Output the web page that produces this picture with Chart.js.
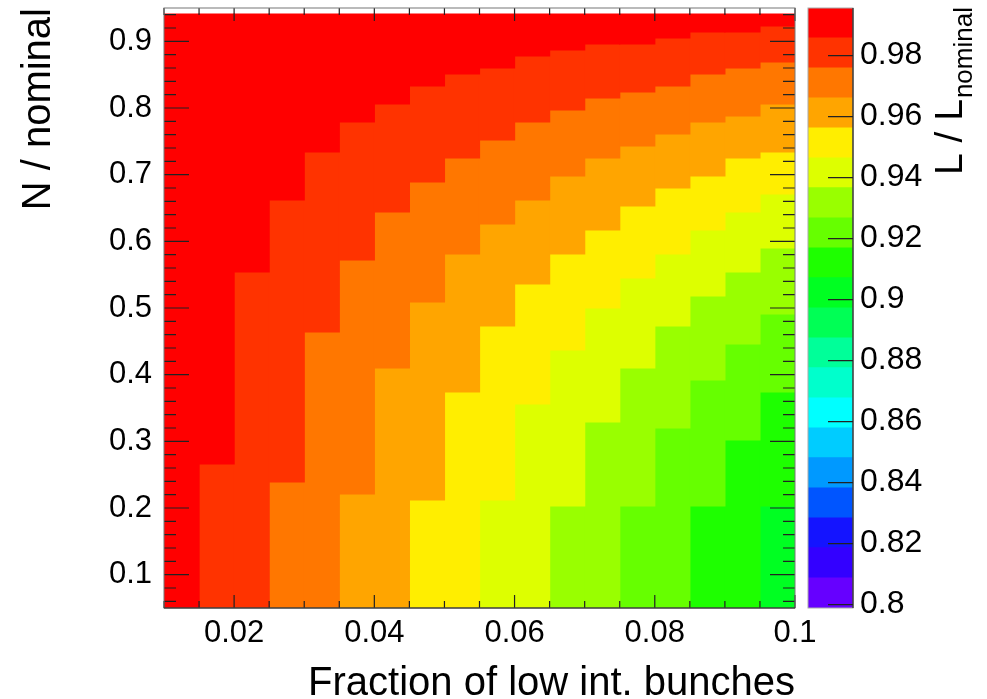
<!DOCTYPE html>
<html>
<head>
<meta charset="utf-8">
<title>L / L nominal</title>
<script src="https://cdn.jsdelivr.net/npm/chart.js@4.4.1/dist/chart.umd.min.js"></script>
<style>
  html, body { margin: 0; padding: 0; background: #fff; }
  #wrap { position: relative; width: 987px; height: 699px; }
  #wrap canvas { position: absolute; left: 0; top: 0; }
</style>
</head>
<body>
<div id="wrap">
  <canvas id="mapChart" width="987" height="699"></canvas>
  <canvas id="barChart" width="987" height="699"></canvas>
</div>
<script>
const FONT = '"Liberation Sans", Arial, Helvetica, sans-serif';

// x bins (centres, fraction of low int. bunches), 0.005 wide
const xBins = [0.0125, 0.0175, 0.0225, 0.0275, 0.0325, 0.0375, 0.0425, 0.0475, 0.0525,
               0.0575, 0.0625, 0.0675, 0.0725, 0.0775, 0.0825, 0.0875, 0.0925, 0.0975];
const xTicks = [0.02, 0.04, 0.06, 0.08, 0.1];
const yTicks = [0.1, 0.2, 0.3, 0.4, 0.5, 0.6, 0.7, 0.8, 0.9];
const zTicks = [0.8, 0.82, 0.84, 0.86, 0.88, 0.9, 0.92, 0.94, 0.96, 0.98];

// contour levels of L / L_nominal (20 bands)
const zEdges = [0.7989, 0.8087, 0.8186, 0.8284, 0.8382, 0.8481, 0.8579, 0.8677, 0.8776, 0.8874,
                0.8972, 0.9071, 0.9169, 0.9267, 0.9366, 0.9464, 0.9562, 0.9661, 0.9759, 0.9857, 0.9956];

// top of filled region (N / nominal)
const yDataTop = 0.941;

// lower edge (N / nominal) of each colour band in every x bin, null = band absent
const bandRed        = [0.05, 0.266, 0.554, 0.662, 0.734, 0.779, 0.806, 0.833, 0.851, 0.86, 0.878, 0.887, 0.896, 0.896, 0.905, 0.914, 0.914, 0.923];
const bandRedOrange  = [null, 0.05, 0.05, 0.239, 0.464, 0.572, 0.644, 0.689, 0.725, 0.752, 0.779, 0.797, 0.815, 0.824, 0.833, 0.851, 0.86, 0.869];
const bandOrange     = [null, null, null, 0.05, 0.05, 0.221, 0.41, 0.509, 0.581, 0.626, 0.662, 0.698, 0.725, 0.743, 0.761, 0.779, 0.788, 0.806];
const bandAmber      = [null, null, null, null, null, 0.05, 0.05, 0.212, 0.374, 0.473, 0.536, 0.581, 0.617, 0.653, 0.68, 0.698, 0.725, 0.734];
const bandYellow     = [null, null, null, null, null, null, null, 0.05, 0.05, 0.212, 0.356, 0.437, 0.5, 0.545, 0.581, 0.617, 0.644, 0.671];
const bandLime       = [null, null, null, null, null, null, null, null, null, 0.05, 0.05, 0.203, 0.329, 0.41, 0.473, 0.518, 0.554, 0.59];
const bandChartreuse = [null, null, null, null, null, null, null, null, null, null, null, 0.05, 0.05, 0.203, 0.32, 0.392, 0.446, 0.491];
const bandLawn       = [null, null, null, null, null, null, null, null, null, null, null, null, null, 0.05, 0.05, 0.203, 0.302, 0.374];
const bandGreen      = [null, null, null, null, null, null, null, null, null, null, null, null, null, null, null, 0.05, 0.05, 0.203];
const bandSpring     = [null, null, null, null, null, null, null, null, null, null, null, null, null, null, null, null, null, 0.05];

// palette, lowest band first
const palette = ['#6600ff', '#3300ff', '#1414ff', '#0055ff', '#0099ff', '#00ccff', '#00ffff', '#00ffcc',
                 '#00ff99', '#00ff55', '#00ff22', '#1eff00', '#66ff00', '#99ff00', '#ddff00', '#ffee00',
                 '#ffa500', '#ff7700', '#ff3300', '#ff0000'];

const bands = [
  { level: 19, floor: bandRed },
  { level: 18, floor: bandRedOrange },
  { level: 17, floor: bandOrange },
  { level: 16, floor: bandAmber },
  { level: 15, floor: bandYellow },
  { level: 14, floor: bandLime },
  { level: 13, floor: bandChartreuse },
  { level: 12, floor: bandLawn },
  { level: 11, floor: bandGreen },
  { level: 10, floor: bandSpring }
];

const mapDatasets = bands.map((b, i) => ({
  data: xBins.map((x, c) => {
    if (b.floor[c] == null) return null;
    const top = i === 0 ? yDataTop : bands[i - 1].floor[c];
    return { x: x, y: [b.floor[c], top] };
  }).filter(p => p),
  backgroundColor: palette[b.level],
  borderWidth: 0,
  grouped: false,
  barPercentage: 1,
  categoryPercentage: 1,
  inflateAmount: 0.6
}));

// fixed axis box, no extra padding asked from the layout
function fixBox(size) {
  return s => {
    if (s.isHorizontal()) s.height = size; else s.width = size;
    s.paddingTop = 0; s.paddingBottom = 0; s.paddingLeft = 0; s.paddingRight = 0;
  };
}

// ROOT style frame with ticks on all four sides
const frameTicks = {
  id: 'frameTicks',
  afterDatasetsDraw(chart) {
    const { ctx, chartArea: a, scales: { x, y } } = chart;
    ctx.save();
    ctx.strokeStyle = '#222';
    ctx.lineWidth = 1.2;
    ctx.beginPath();
    for (let k = 0; k <= 18; k++) {
      const v = 0.01 + k * 0.005;
      const major = xTicks.some(t => Math.abs(t - v) < 1e-6);
      const len = major ? 13 : 7;
      const px = x.getPixelForValue(v);
      ctx.moveTo(px, a.bottom); ctx.lineTo(px, a.bottom - len);
      ctx.moveTo(px, a.top); ctx.lineTo(px, a.top + len);
    }
    for (let k = 0; k <= 44; k++) {
      const v = 0.06 + k * 0.02;
      const major = yTicks.some(t => Math.abs(t - v) < 1e-6);
      const len = major ? 25 : 12;
      const py = y.getPixelForValue(v);
      ctx.moveTo(a.left, py); ctx.lineTo(a.left + len, py);
      ctx.moveTo(a.right, py); ctx.lineTo(a.right - len, py);
    }
    ctx.stroke();
    ctx.strokeStyle = '#777';
    ctx.lineWidth = 1;
    ctx.strokeRect(a.left, a.top, a.right - a.left, a.bottom - a.top);
    ctx.strokeStyle = '#222';
    ctx.beginPath();
    ctx.moveTo(a.left, a.bottom); ctx.lineTo(a.right, a.bottom);
    ctx.stroke();
    ctx.restore();
  }
};

new Chart(document.getElementById('mapChart'), {
  type: 'bar',
  data: { datasets: mapDatasets },
  options: {
    responsive: false,
    animation: false,
    devicePixelRatio: 1,
    layout: { padding: { left: 0, right: 192, top: 8, bottom: 0 } },
    plugins: { legend: { display: false }, tooltip: { enabled: false } },
    scales: {
      x: {
        type: 'linear', min: 0.01, max: 0.1, offset: false,
        grid: { display: false, drawTicks: false },
        border: { display: false },
        ticks: { font: { family: FONT, size: 31 }, color: '#000', padding: 7, maxRotation: 0, autoSkip: false,
                 callback: v => String(v) },
        afterBuildTicks: s => { s.ticks = xTicks.map(v => ({ value: v })); },
        afterFit: fixBox(91),
        title: { display: true, text: 'Fraction of low int. bunches', align: 'end', color: '#000',
                 font: { family: FONT, size: 40, lineHeight: 1 }, padding: { top: 0, bottom: -5 } }
      },
      y: {
        type: 'linear', min: 0.05, max: 0.95,
        grid: { display: false, drawTicks: false },
        border: { display: false },
        ticks: { font: { family: FONT, size: 31 }, color: '#000', padding: 12, autoSkip: false,
                 callback: v => String(v) },
        afterBuildTicks: s => { s.ticks = yTicks.map(v => ({ value: v })); },
        afterFit: fixBox(164),
        title: { display: true, text: 'N / nominal', align: 'end', color: '#000',
                 font: { family: FONT, size: 40, lineHeight: 1 }, padding: { top: 19, bottom: 0 } }
      }
    }
  },
  plugins: [frameTicks]
});

// palette axis: ticks inside the bar, title with subscript
const paletteAxis = {
  id: 'paletteAxis',
  afterDatasetsDraw(chart) {
    const { ctx, chartArea: a, scales: { y } } = chart;
    ctx.save();
    ctx.strokeStyle = '#aaa';
    ctx.lineWidth = 1;
    ctx.strokeRect(a.left, a.top, a.right - a.left, a.bottom - a.top);
    ctx.strokeStyle = '#222';
    ctx.lineWidth = 1.2;
    ctx.beginPath();
    ctx.moveTo(a.right, a.top); ctx.lineTo(a.right, a.bottom);
    zTicks.forEach(v => {
      const py = y.getPixelForValue(v);
      ctx.moveTo(a.right, py); ctx.lineTo(a.right - 25, py);
    });
    ctx.stroke();

    ctx.translate(962, 175);
    ctx.rotate(-Math.PI / 2);
    ctx.fillStyle = '#000';
    ctx.textBaseline = 'alphabetic';
    ctx.textAlign = 'left';
    ctx.font = '39px ' + FONT;
    ctx.fillText('L / L', 0, 0);
    const w = ctx.measureText('L / L').width;
    ctx.font = '26px ' + FONT;
    ctx.fillText('nominal', w + 1, 10);
    ctx.restore();
  }
};

new Chart(document.getElementById('barChart'), {
  type: 'bar',
  data: {
    labels: ['L / L_nominal'],
    datasets: palette.map((c, i) => ({
      data: [[zEdges[i], zEdges[i + 1]]],
      backgroundColor: c,
      borderWidth: 0,
      grouped: false,
      barPercentage: 1,
      categoryPercentage: 1,
      inflateAmount: 0.6
    }))
  },
  options: {
    responsive: false,
    animation: false,
    devicePixelRatio: 1,
    layout: { padding: { left: 808, right: 0, top: 8, bottom: 91 } },
    plugins: { legend: { display: false }, tooltip: { enabled: false } },
    scales: {
      x: { display: false },
      y: {
        position: 'right', min: zEdges[0], max: zEdges[zEdges.length - 1],
        grid: { display: false, drawTicks: false },
        border: { display: false },
        ticks: { font: { family: FONT, size: 32 }, color: '#000', padding: 7, autoSkip: false,
                 callback: v => String(v) },
        afterBuildTicks: s => { s.ticks = zTicks.map(v => ({ value: v })); },
        afterFit: fixBox(134)
      }
    }
  },
  plugins: [paletteAxis]
});
</script>
</body>
</html>
